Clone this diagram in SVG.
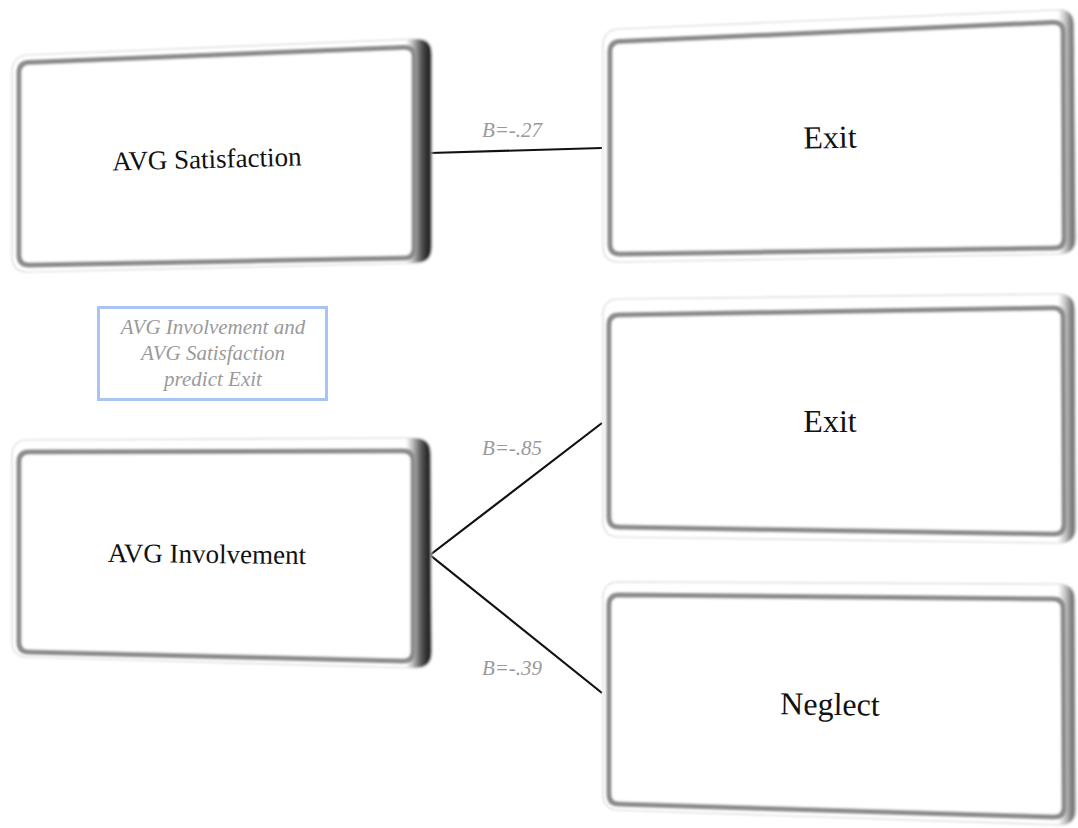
<svg xmlns="http://www.w3.org/2000/svg" width="1078" height="828" viewBox="0 0 1078 828">
<defs>
<linearGradient id="sideL" gradientUnits="userSpaceOnUse" x1="406" y1="0" x2="432" y2="0">
<stop offset="0" stop-color="#ffffff"/><stop offset="0.25" stop-color="#bdbdbd"/><stop offset="0.6" stop-color="#555"/><stop offset="0.85" stop-color="#262626"/><stop offset="1" stop-color="#333"/>
</linearGradient>
<linearGradient id="sideR" gradientUnits="userSpaceOnUse" x1="1058" y1="0" x2="1076" y2="0">
<stop offset="0" stop-color="#ffffff"/><stop offset="0.4" stop-color="#c4c4c4"/><stop offset="0.8" stop-color="#777"/><stop offset="1" stop-color="#9a9a9a"/>
</linearGradient>
<filter id="soft" x="-5%" y="-5%" width="110%" height="110%"><feGaussianBlur stdDeviation="0.9"/></filter>
<filter id="soft2" x="-5%" y="-5%" width="110%" height="110%"><feGaussianBlur stdDeviation="1.2"/></filter>
</defs>
<style>
.slabL{fill:url(#sideL);stroke:#d6d6d6;stroke-width:1.2}
.slabR{fill:url(#sideR);stroke:#d6d6d6;stroke-width:1.2}
.frame{fill:#ffffff;stroke:#8c8c8c;stroke-width:5;filter:url(#soft)}
.lbl{font-family:"Liberation Serif","Times New Roman",serif;fill:#111;text-anchor:middle}
.coef{font-family:"Liberation Serif","Times New Roman",serif;font-style:italic;font-size:21px;fill:#9a9a9a;text-anchor:middle}
.conn{stroke:#111;stroke-width:2.2;fill:none}
</style>
<rect width="1078" height="828" fill="#ffffff"/>

<g id="connectors">
<line class="conn" x1="430" y1="153" x2="602" y2="148"/>
<polyline class="conn" points="602,423 430,555 602,693"/>
<text class="coef" x="512" y="137">B=-.27</text>
<text class="coef" x="512" y="455">B=-.85</text>
<text class="coef" x="512" y="675">B=-.39</text>
</g>

<g id="node-satisfaction">
<path class="slabL" filter="url(#soft2)" d="M28,55 L416,39 Q432,38 432,54 L432,247 Q432,263 416,263 L28,272 Q12,272 12,256 L12,72 Q12,56 28,55 Z"/>
<path class="frame" d="M29,62.6 L404,47.4 Q414,47 414,57 L414,248 Q414,258 404,258 L29,265 Q19,265 19,255 L19,73 Q19,63 29,62.6 Z"/>
<text class="lbl" font-size="27" x="207" y="168" transform="rotate(-1.5 207 160)">AVG Satisfaction</text>
</g>

<g id="node-exit-1">
<path class="slabR" filter="url(#soft2)" d="M619,29 L1058,10 Q1074,9 1074,25 L1076,238 Q1076,254 1060,254 L619,262 Q603,262 603,246 L603,46 Q603,30 619,29 Z"/>
<path class="frame" d="M620,41.6 L1053,22.4 Q1063,22 1063,32 L1064,238 Q1064,248 1054,248 L620,254 Q610,254 610,244 L610,52 Q610,42 620,41.6 Z"/>
<text class="lbl" font-size="32" x="830" y="148" transform="rotate(-1.2 830 138)">Exit</text>
</g>

<g id="node-note">
<rect x="98.5" y="307.5" width="228" height="92" fill="#ffffff" stroke="#a9c3f2" stroke-width="3"/>
<text class="coef" x="213" y="334">AVG Involvement and</text>
<text class="coef" x="213" y="360">AVG Satisfaction</text>
<text class="coef" x="213" y="386">predict Exit</text>
</g>

<g id="node-exit-2">
<path class="slabR" filter="url(#soft2)" d="M619,299 L1059,294 Q1075,294 1075,310 L1076,527 Q1076,543 1060,543 L619,537 Q603,537 603,521 L603,315 Q603,299 619,299 Z"/>
<path class="frame" d="M619,315 L1053,308 Q1063,308 1063,318 L1064,524 Q1064,534 1054,534 L619,527 Q609,527 609,517 L609,325 Q609,315 619,315 Z"/>
<text class="lbl" font-size="32" x="830" y="432">Exit</text>
</g>

<g id="node-involvement">
<path class="slabL" filter="url(#soft2)" d="M28,440 L415,438 Q431,438 431,454 L432,652 Q432,668 416,668 L28,657 Q12,657 12,641 L12,456 Q12,440 28,440 Z"/>
<path class="frame" d="M29,452 L403,451 Q413,451 413,461 L413,651 Q413,661 403,661 L29,652 Q19,652 19,642 L19,462 Q19,452 29,452 Z"/>
<text class="lbl" font-size="27" x="207" y="563" transform="rotate(0.6 207 555)">AVG Involvement</text>
</g>

<g id="node-neglect">
<path class="slabR" filter="url(#soft2)" d="M619,582 L1059,584 Q1075,584 1075,600 L1076,809 Q1076,825 1060,825 L619,810 Q603,810 603,794 L603,598 Q603,582 619,582 Z"/>
<path class="frame" d="M619,595 L1053,599 Q1063,599 1063,609 L1064,807 Q1064,817 1054,817 L619,804 Q609,804 609,794 L609,605 Q609,595 619,595 Z"/>
<text class="lbl" font-size="32" x="830" y="715" transform="rotate(0.8 830 705)">Neglect</text>
</g>
</svg>
